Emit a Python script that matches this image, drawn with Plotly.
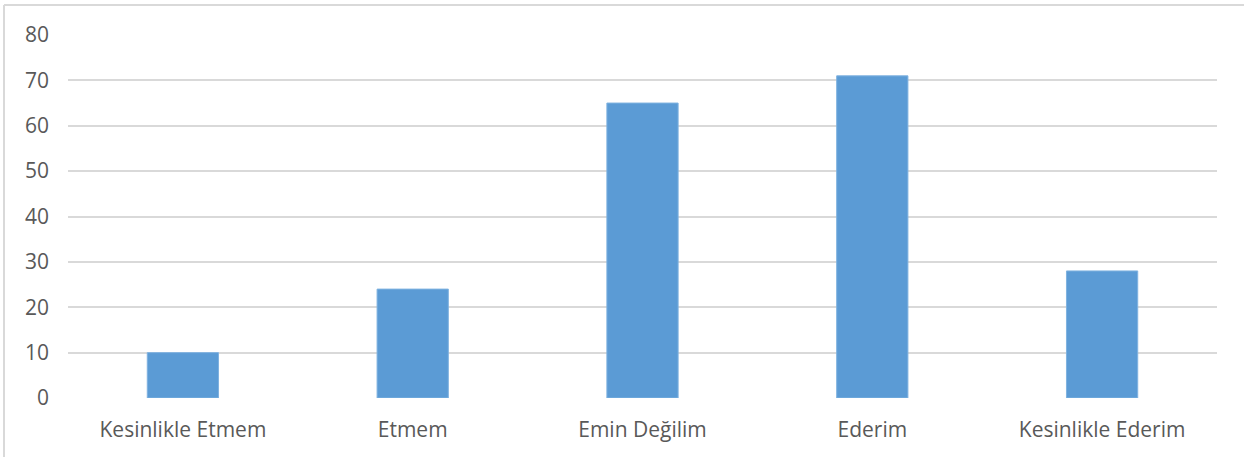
import plotly.graph_objects as go

categories = ["Kesinlikle Etmem", "Etmem", "Emin Değilim", "Ederim", "Kesinlikle Ederim"]
values = [10, 24, 65, 71, 28]
y_ticks = [0, 10, 20, 30, 40, 50, 60, 70, 80]

W, H = 1244, 457
L, R, T, B = 68, 27, 35, 59
pw, ph = W - L - R, H - T - B

fig = go.Figure(go.Bar(
    x=categories, y=values,
    marker=dict(color="#5B9BD5", line=dict(color="#7FB2E0", width=1)),
    width=0.31,
))

fig.update_layout(
    width=W, height=H,
    margin=dict(l=L, r=R, t=T, b=B),
    paper_bgcolor="white", plot_bgcolor="white",
    showlegend=False,
    font=dict(family="Open Sans", size=21, color="#595959"),
    xaxis=dict(showgrid=False, showline=False, ticks="", ticklabelstandoff=17,
               tickfont=dict(size=21, color="#595959")),
    yaxis=dict(range=[0, 80], tickvals=y_ticks, showgrid=True, gridcolor="#D9D9D9", gridwidth=2,
               zeroline=False, showline=False, ticks="", ticklabelstandoff=18,
               tickfont=dict(size=21, color="#595959")),
    shapes=[
        dict(type="line", xref="paper", yref="paper", x0=(4 - L) / pw, x1=(W - L) / pw + 0.01,
             y0=1 + (T - 5) / ph, y1=1 + (T - 5) / ph, line=dict(color="#D9D9D9", width=2)),
        dict(type="line", xref="paper", yref="paper", x0=(4 - L) / pw, x1=(4 - L) / pw,
             y0=1 + (T - 5) / ph, y1=-B / ph - 0.01, line=dict(color="#D9D9D9", width=2)),
    ],
)

fig.write_html("out.html", config={"displayModeBar": False},
               post_script="document.body.style.margin='0';document.body.style.overflow='hidden';")
